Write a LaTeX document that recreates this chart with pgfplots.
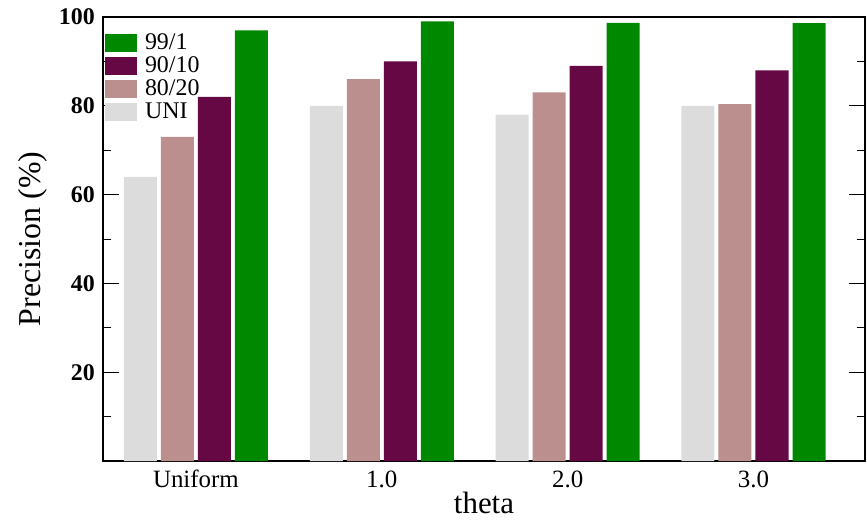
\documentclass[border=0pt]{standalone}
\usepackage{fontspec}
\setmainfont{Liberation Serif}
\usepackage{pgfplots}
\pgfplotsset{compat=1.18}
\definecolor{cgreen}{RGB}{0,136,0}
\definecolor{cpurple}{RGB}{102,8,68}
\definecolor{crose}{RGB}{188,143,143}
\definecolor{cgray}{RGB}{220,220,220}
\begin{document}
\begin{tikzpicture}
\begin{axis}[
  name=main,
  scale only axis,
  width=762bp, height=444bp,
  xmin=-0.5, xmax=3.6,
  ymin=0, ymax=100,
  ybar, bar width=33bp,
  xtick={0,1,2,3},
  xticklabels={Uniform,1.0,2.0,3.0},
  major x tick style={draw=none},
  ytick={20,40,60,80,100},
  minor ytick={10,30,50,70,90},
  tick align=inside,
  ytick pos=both,
  major tick length=16bp,
  minor tick length=8bp,
  tick style={line width=1pt, black},
  axis line style={line width=1.6pt},
  /pgf/number format/assume math mode=true,
  yticklabel style={font=\fontsize{24}{28}\selectfont\bfseries, anchor=east, inner sep=0pt, xshift=-8bp},
  xticklabel style={font=\fontsize{25}{29}\selectfont, anchor=base, inner sep=0pt, yshift=-26bp},
  xlabel={theta}, ylabel={Precision (\%)},
  ylabel style={font=\fontsize{32}{36}\selectfont, at={(axis description cs:0,0.5)}, anchor=center, yshift=70bp, inner sep=0pt},
  xlabel style={font=\fontsize{31}{35}\selectfont, at={(axis description cs:0.5,0)}, anchor=base, yshift=-52bp, inner sep=0pt},
  legend style={at={(axis description cs:0,1)}, anchor=north west, xshift=2bp, yshift=-14.7bp,
    draw=none, fill=none, inner sep=0pt, outer sep=0pt, row sep=3bp,
    font=\fontsize{24}{26}\selectfont,
    nodes={inner sep=0pt, text height=18bp, text depth=0bp},
    /tikz/every odd column/.append style={column sep=8bp}},
  legend cell align=left,
  reverse legend,
  legend image code/.code={\fill[#1,draw=none] (0bp,-11bp) rectangle (32bp,7bp);},
]
\addplot[fill=cgray, draw=none, bar shift=-55.5bp] coordinates {(0,64) (1,80) (2,78) (3,80)};
\addplot[fill=crose, draw=none, bar shift=-18.5bp] coordinates {(0,73) (1,86) (2,83) (3,80.4)};
\addplot[fill=cpurple, draw=none, bar shift=18.5bp] coordinates {(0,82) (1,90) (2,89) (3,88)};
\addplot[fill=cgreen, draw=none, bar shift=55.5bp] coordinates {(0,97) (1,99) (2,98.7) (3,98.6)};
\legend{UNI,80/20,90/10,99/1}
\end{axis}
\pgfresetboundingbox
\path[use as bounding box] ([shift={(-103bp,-58bp)}]main.south west) rectangle ([shift={(2bp,17bp)}]main.north east);
\end{tikzpicture}
\end{document}
